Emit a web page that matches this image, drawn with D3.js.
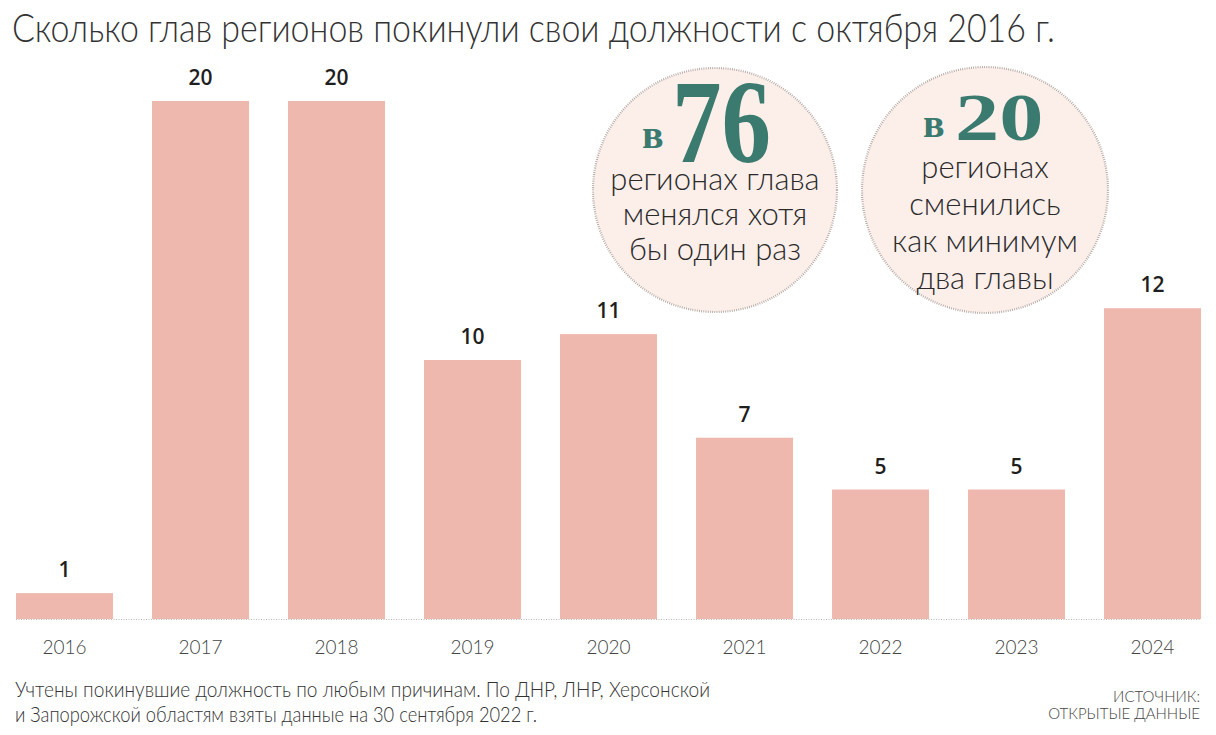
<!DOCTYPE html>
<html><head><meta charset="utf-8">
<script src="https://cdn.jsdelivr.net/npm/d3@7"></script>
<style>
body{margin:0;background:#fff;}
svg{display:block;}
</style></head>
<body>
<svg id="c" width="1216" height="735"></svg>
<script>
const years = ["2016","2017","2018","2019","2020","2021","2022","2023","2024"];
const values = [1,20,20,10,11,7,5,5,12];
const titleText = "Сколько глав регионов покинули свои должности с октября 2016 г.";
const circle1Num = "76";
const circle1Lines = ["регионах глава","менялся хотя","бы один раз"];
const circle2Num = "20";
const circle2Lines = ["регионах","сменились","как минимум","два главы"];
const noteLines = ["Учтены покинувшие должность по любым причинам. По ДНР, ЛНР, Херсонской","и Запорожской областям взяты данные на 30 сентября 2022 г."];
const sourceLines = ["ИСТОЧНИК:","ОТКРЫТЫЕ ДАННЫЕ"];

const svg = d3.select("#c");
const light = "Lato, 'Open Sans', sans-serif";
const sans = "'Open Sans', 'Noto Sans', sans-serif";
const serif = "'Liberation Serif', 'DejaVu Serif', serif";
const teal = "#3b7a6f";

const x = d3.scaleBand().domain(years).range([16,1201]).paddingInner(0.287).paddingOuter(0);
const y = d3.scaleLinear().domain([0,20]).range([619,101]);

// title
svg.append("text").attr("x",12).attr("y",42)
  .attr("font-family",light).attr("font-weight",300).attr("font-size",39)
  .attr("fill","#333").attr("textLength",1043).attr("lengthAdjust","spacingAndGlyphs")
  .text(titleText);

// bars
svg.selectAll("rect.bar").data(values).join("rect").attr("class","bar")
  .attr("x",(d,i)=>x(years[i])).attr("width",x.bandwidth())
  .attr("y",d=>y(d)).attr("height",d=>y(0)-y(d))
  .attr("fill","#efb8ae");

// baseline
svg.append("line").attr("x1",16).attr("x2",1201).attr("y1",y(0)+0.5).attr("y2",y(0)+0.5)
  .attr("stroke","#b5b5b5").attr("stroke-width",1).attr("stroke-dasharray","1,1.5");

// value labels
svg.selectAll("text.val").data(values).join("text").attr("class","val")
  .attr("x",(d,i)=>x(years[i])+x.bandwidth()/2).attr("y",d=>y(d)-16)
  .attr("text-anchor","middle").attr("font-family",sans).attr("font-weight",600)
  .attr("font-size",21).attr("fill","#1f1f1f").text(d=>d);

// x axis
const xAxis = d3.axisBottom(x).tickSize(0).tickPadding(0);
const ax = svg.append("g").attr("transform",`translate(0,${y(0)})`).call(xAxis);
ax.select(".domain").remove();
ax.selectAll("text").attr("dy",null).attr("y",35).attr("font-family",light).attr("font-weight",300)
  .attr("font-size",19).attr("fill","#444");

// circles
function bubble(cx, cy, r, num, numSize, numScaleX, numBase, vX, vBase, lines, lineBase, lineStep, numX){
  const g = svg.append("g");
  g.append("circle").attr("cx",cx).attr("cy",cy).attr("r",r)
    .attr("fill","#fcefea").attr("stroke","#a9a09c").attr("stroke-width",2.2).attr("stroke-dasharray","0.8,1.4");
  g.append("text").attr("x",vX).attr("y",vBase).attr("font-family",serif).attr("font-weight",700)
    .attr("font-size",40).attr("fill",teal).text("в");
  g.append("text").attr("transform",`translate(${numX},${numBase}) scale(${numScaleX},1)`)
    .attr("font-family",serif).attr("font-weight",700).attr("font-size",numSize).attr("fill",teal).text(num);
  g.selectAll("text.ln").data(lines).join("text").attr("class","ln")
    .attr("x",cx).attr("y",(d,i)=>lineBase+i*lineStep).attr("text-anchor","middle")
    .attr("font-family",light).attr("font-weight",300).attr("font-size",31).attr("fill","#2a2a2a").text(d=>d);
}
bubble(715,190,122,circle1Num,118,0.84,162,642,148,circle1Lines,190,35,672);
bubble(985,190,123,circle2Num,68,1.3,140,923,137,circle2Lines,178,37,955);

// footnote
svg.selectAll("text.note").data(noteLines).join("text").attr("class","note")
  .attr("x",15).attr("y",(d,i)=>697+i*25).attr("font-family",light).attr("font-weight",300)
  .attr("font-size",21).attr("fill","#333")
  .attr("textLength",(d,i)=>i===0?695:522).attr("lengthAdjust","spacingAndGlyphs").text(d=>d);

// source
svg.selectAll("text.src").data(sourceLines).join("text").attr("class","src")
  .attr("x",1200).attr("y",(d,i)=>702+i*17).attr("text-anchor","end").attr("font-family",light)
  .attr("font-weight",300).attr("font-size",15).attr("fill","#444").text(d=>d);
</script>
</body></html>
